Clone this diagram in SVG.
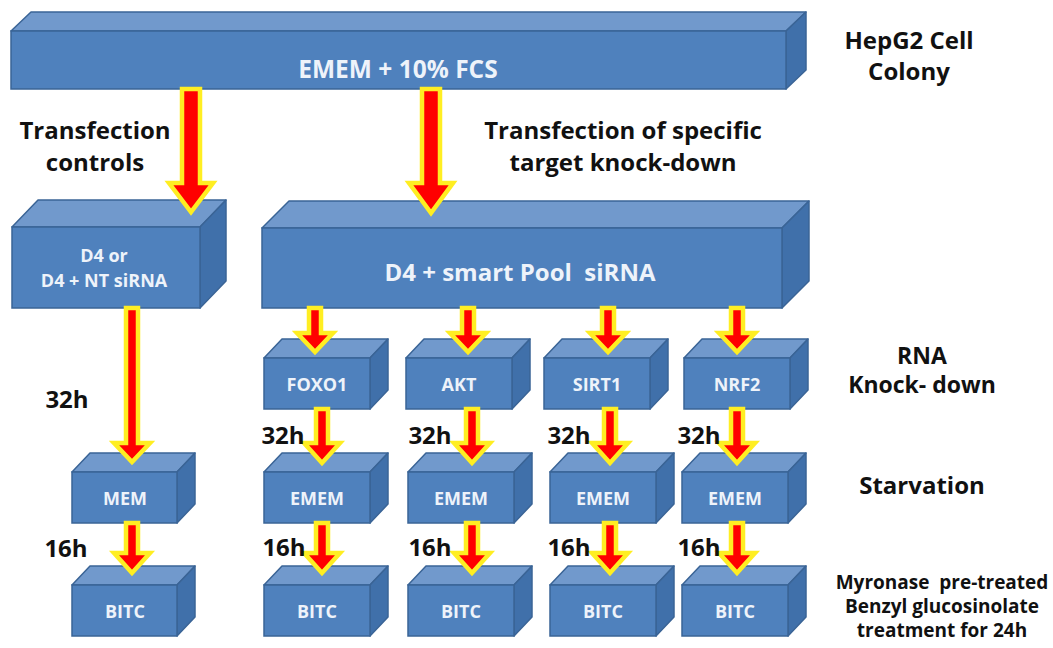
<svg xmlns="http://www.w3.org/2000/svg" width="1053" height="648" viewBox="0 0 1053 648">
<style>
.front{fill:#4f81bd;stroke:#3a6496;stroke-width:1.5}
.top{fill:#7199cc;stroke:#3a6496;stroke-width:1.5;stroke-linejoin:round}
.side{fill:#4070aa;stroke:#3a6496;stroke-width:1.5;stroke-linejoin:round}
.bt{font-family:"Open Sans","Liberation Sans",sans-serif;font-weight:bold;fill:#eef3fa;text-anchor:middle}
.lb{font-family:"Open Sans","Liberation Sans",sans-serif;font-weight:bold;fill:#111;text-anchor:middle}
.arr{fill:#ff0000;stroke:#ffee22;stroke-width:4.5;stroke-linejoin:miter}
</style>
<rect width="1053" height="648" fill="#ffffff"/>

<g id="hepg2">
<polygon class="top" points="11,31 31,12 806,12 786,31"/>
<polygon class="side" points="786,31 806,12 806,70 786,89"/>
<rect class="front" x="11" y="31" width="775" height="58"/>
<text class="bt" x="398" y="78" font-size="24.5">EMEM + 10% FCS</text>
</g>

<g id="control">
<polygon class="top" points="12,227 38,200 226,200 200,227"/>
<polygon class="side" points="200,227 226,200 226,281 200,308"/>
<rect class="front" x="12" y="227" width="188" height="81"/>
<text class="bt" x="104" y="262" font-size="18">D4 or</text>
<text class="bt" x="104" y="287" font-size="18">D4 + NT siRNA</text>
</g>

<g id="pool">
<polygon class="top" points="262,228 289,201 809,201 782,228"/>
<polygon class="side" points="782,228 809,201 809,281 782,308"/>
<rect class="front" x="262" y="228" width="520" height="80"/>
<text class="bt" x="520" y="281" font-size="24">D4 + smart Pool&#160; siRNA</text>
</g>

<g id="foxo1">
<polygon class="top" points="264,358 282,339 388,339 370,358"/>
<polygon class="side" points="370,358 388,339 388,390 370,409"/>
<rect class="front" x="264" y="358" width="106" height="51"/>
<text class="bt" x="317" y="391" font-size="18">FOXO1</text>
</g>
<g id="akt">
<polygon class="top" points="406,358 424,339 530,339 512,358"/>
<polygon class="side" points="512,358 530,339 530,390 512,409"/>
<rect class="front" x="406" y="358" width="106" height="51"/>
<text class="bt" x="459" y="391" font-size="18">AKT</text>
</g>
<g id="sirt1">
<polygon class="top" points="544,358 562,339 668,339 650,358"/>
<polygon class="side" points="650,358 668,339 668,390 650,409"/>
<rect class="front" x="544" y="358" width="106" height="51"/>
<text class="bt" x="597" y="391" font-size="18">SIRT1</text>
</g>
<g id="nrf2">
<polygon class="top" points="684,358 702,339 808,339 790,358"/>
<polygon class="side" points="790,358 808,339 808,390 790,409"/>
<rect class="front" x="684" y="358" width="106" height="51"/>
<text class="bt" x="737" y="391" font-size="18">NRF2</text>
</g>

<g id="mem">
<polygon class="top" points="72,472 90,453 195,453 177,472"/>
<polygon class="side" points="177,472 195,453 195,504 177,523"/>
<rect class="front" x="72" y="472" width="105" height="51"/>
<text class="bt" x="125" y="505" font-size="18">MEM</text>
</g>
<g id="emem1">
<polygon class="top" points="264,472 282,453 388,453 370,472"/>
<polygon class="side" points="370,472 388,453 388,504 370,523"/>
<rect class="front" x="264" y="472" width="106" height="51"/>
<text class="bt" x="317" y="505" font-size="18">EMEM</text>
</g>
<g id="emem2">
<polygon class="top" points="408,472 426,453 532,453 514,472"/>
<polygon class="side" points="514,472 532,453 532,504 514,523"/>
<rect class="front" x="408" y="472" width="106" height="51"/>
<text class="bt" x="461" y="505" font-size="18">EMEM</text>
</g>
<g id="emem3">
<polygon class="top" points="550,472 568,453 674,453 656,472"/>
<polygon class="side" points="656,472 674,453 674,504 656,523"/>
<rect class="front" x="550" y="472" width="106" height="51"/>
<text class="bt" x="603" y="505" font-size="18">EMEM</text>
</g>
<g id="emem4">
<polygon class="top" points="682,472 700,453 806,453 788,472"/>
<polygon class="side" points="788,472 806,453 806,504 788,523"/>
<rect class="front" x="682" y="472" width="106" height="51"/>
<text class="bt" x="735" y="505" font-size="18">EMEM</text>
</g>

<g id="bitc0">
<polygon class="top" points="72,585 90,566 195,566 177,585"/>
<polygon class="side" points="177,585 195,566 195,617 177,636"/>
<rect class="front" x="72" y="585" width="105" height="51"/>
<text class="bt" x="125" y="618" font-size="18">BITC</text>
</g>
<g id="bitc1">
<polygon class="top" points="264,585 282,566 388,566 370,585"/>
<polygon class="side" points="370,585 388,566 388,617 370,636"/>
<rect class="front" x="264" y="585" width="106" height="51"/>
<text class="bt" x="317" y="618" font-size="18">BITC</text>
</g>
<g id="bitc2">
<polygon class="top" points="408,585 426,566 532,566 514,585"/>
<polygon class="side" points="514,585 532,566 532,617 514,636"/>
<rect class="front" x="408" y="585" width="106" height="51"/>
<text class="bt" x="461" y="618" font-size="18">BITC</text>
</g>
<g id="bitc3">
<polygon class="top" points="550,585 568,566 674,566 656,585"/>
<polygon class="side" points="656,585 674,566 674,617 656,636"/>
<rect class="front" x="550" y="585" width="106" height="51"/>
<text class="bt" x="603" y="618" font-size="18">BITC</text>
</g>
<g id="bitc4">
<polygon class="top" points="682,585 700,566 806,566 788,585"/>
<polygon class="side" points="788,585 806,566 806,617 788,636"/>
<rect class="front" x="682" y="585" width="106" height="51"/>
<text class="bt" x="735" y="618" font-size="18">BITC</text>
</g>

<g id="connectors">
<polygon class="arr" points="182,89 200,89 200,183 213,183 191,212 169,183 182,183"/>
<polygon class="arr" points="422,89 440,89 440,183 453,183 431,213 409,183 422,183"/>
<polygon class="arr" points="126,308 138,308 138,443 150,443 132,462 114,443 126,443"/>
<polygon class="arr" points="126,523 138,523 138,553 150,553 132,573 114,553 126,553"/>
<polygon class="arr" points="309,308 321,308 321,333 333,333 315,352 297,333 309,333"/>
<polygon class="arr" points="462,308 474,308 474,333 486,333 468,352 450,333 462,333"/>
<polygon class="arr" points="602,308 614,308 614,333 626,333 608,352 590,333 602,333"/>
<polygon class="arr" points="731,308 743,308 743,333 755,333 737,352 719,333 731,333"/>
<polygon class="arr" points="316,409 328,409 328,443 340,443 322,463 304,443 316,443"/>
<polygon class="arr" points="466,409 478,409 478,443 490,443 472,463 454,443 466,443"/>
<polygon class="arr" points="604,409 616,409 616,443 628,443 610,463 592,443 604,443"/>
<polygon class="arr" points="731,409 743,409 743,443 755,443 737,463 719,443 731,443"/>
<polygon class="arr" points="316,523 328,523 328,553 340,553 322,573 304,553 316,553"/>
<polygon class="arr" points="466,523 478,523 478,553 490,553 472,573 454,553 466,553"/>
<polygon class="arr" points="604,523 616,523 616,553 628,553 610,573 592,553 604,553"/>
<polygon class="arr" points="731,523 743,523 743,553 755,553 737,573 719,553 731,553"/>
</g>

<g id="labels">
<text class="lb" x="909" y="49" font-size="24">HepG2 Cell</text>
<text class="lb" x="909" y="80" font-size="24">Colony</text>
<text class="lb" x="95" y="139" font-size="24">Transfection</text>
<text class="lb" x="95" y="171" font-size="24">controls</text>
<text class="lb" x="623" y="139" font-size="24">Transfection of specific</text>
<text class="lb" x="623" y="171" font-size="24">target knock-down</text>
<text class="lb" x="922" y="364" font-size="23">RNA</text>
<text class="lb" x="922" y="393" font-size="23">Knock- down</text>
<text class="lb" x="922" y="494" font-size="24">Starvation</text>
<text class="lb" x="942" y="589" font-size="19">Myronase&#160; pre-treated</text>
<text class="lb" x="942" y="613" font-size="19">Benzyl glucosinolate</text>
<text class="lb" x="942" y="637" font-size="19">treatment for 24h</text>
<text class="lb" x="67" y="408" font-size="24">32h</text>
<text class="lb" x="283" y="444" font-size="24">32h</text>
<text class="lb" x="430" y="444" font-size="24">32h</text>
<text class="lb" x="569" y="444" font-size="24">32h</text>
<text class="lb" x="699" y="444" font-size="24">32h</text>
<text class="lb" x="66" y="557" font-size="24">16h</text>
<text class="lb" x="284" y="556" font-size="24">16h</text>
<text class="lb" x="430" y="556" font-size="24">16h</text>
<text class="lb" x="569" y="556" font-size="24">16h</text>
<text class="lb" x="699" y="556" font-size="24">16h</text>
</g>
</svg>
